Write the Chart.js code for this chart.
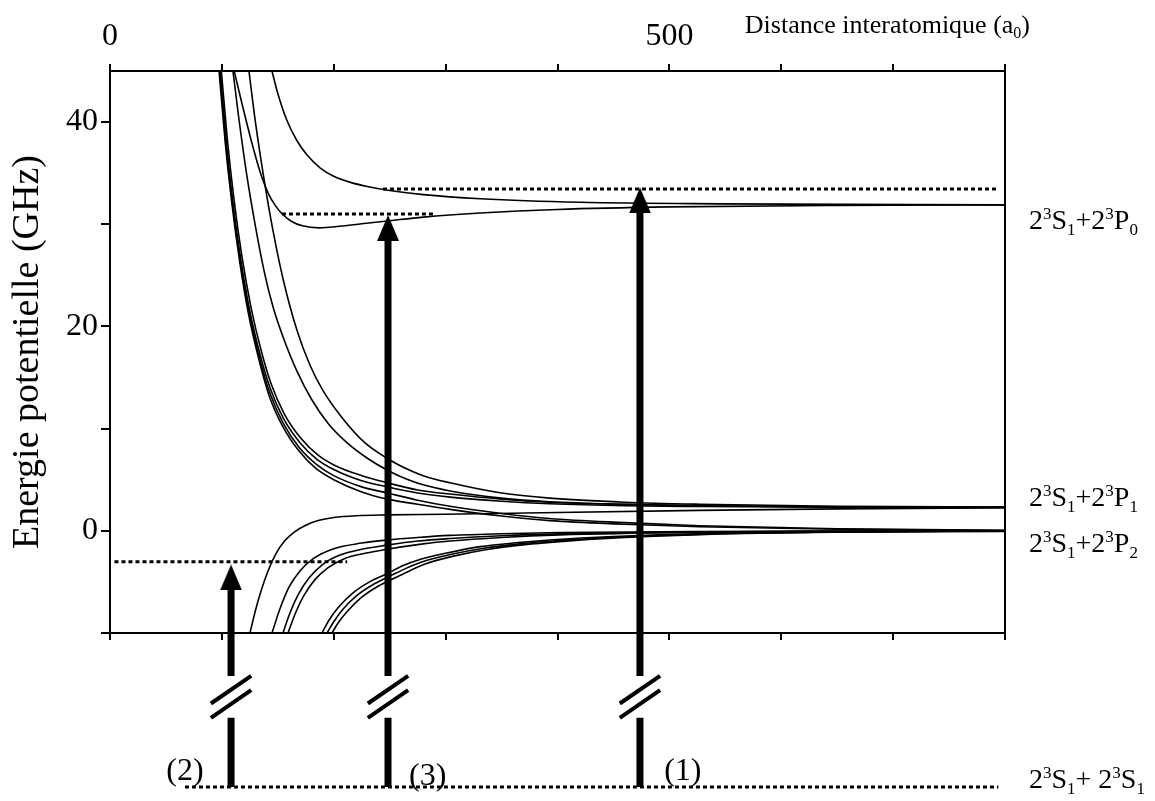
<!DOCTYPE html>
<html>
<head>
<meta charset="utf-8">
<script src="https://cdn.jsdelivr.net/npm/chart.js@4.4.1/dist/chart.umd.min.js"></script>
<style>
  html, body { margin: 0; padding: 0; background: #fff; }
</style>
</head>
<body>
<canvas id="chart" width="1155" height="801"></canvas>
<script>
var FONT = '"Liberation Serif", "Times New Roman", serif';

// tick labels
var topTickLabels = [0, 500];
var leftTickLabels = [0, 20, 40];

// potential curves, points [R (a0), E (GHz)]
// towards 2S+2P0
var curveP0rep = [[144.8,45],[150,42.8],[158,40.2],[167,38.2],[176,36.8],[188,35.5],[200,34.7],[215,34.1],[230,33.7],[250,33.3],[280,32.9],[331,32.5],[420,32.15],[550,32.0],[800,31.9]];
var curveP0well = [[111,45],[118,41.8],[126,38.3],[134,35.2],[142,32.9],[148,31.8],[154,31.0],[162,30.3],[172,29.85],[187,29.65],[205,29.8],[225,30.05],[250,30.35],[280,30.7],[331,31.1],[400,31.45],[500,31.7],[650,31.85],[800,31.9]];

// repulsive curves towards 2S+2P1
var curveC1 = [[109.9,45],[115,40.5],[122,35.0],[130,29.8],[138,25.3],[146,21.8],[154.6,19.0],[167.2,15.6],[180,12.9],[195,10.5],[212,8.6],[230,7.1],[247.6,5.95],[259,5.35],[280,4.5],[304,3.9],[350,3.2],[393,2.85],[460,2.6],[527,2.45],[650,2.35],[800,2.3]];
var curveC2 = [[124.2,45],[130,40.0],[138,34.2],[146,29.2],[155,24.5],[167.2,19.6],[178.8,16.2],[190,13.8],[208,11.0],[228,8.6],[247.6,7.1],[259,6.4],[280,5.4],[304,4.7],[350,3.7],[393,3.2],[460,2.8],[527,2.6],[650,2.4],[800,2.33]];
var curveB1 = [[99.5,45],[105,38.2],[111,32.3],[118,26.8],[126,21.9],[135,17.7],[144,14.4],[156,11.4],[171,9.0],[186,7.4],[201,6.4],[225,5.4],[248,4.7],[275,4.0],[304,3.6],[350,3.1],[393,2.8],[460,2.6],[527,2.45],[650,2.35],[800,2.3]];
var curveB2 = [[98.5,45],[104,38],[110,32],[117,26.5],[125,21.5],[134,17.3],[143,14.0],[155,11.0],[170,8.6],[185,7.0],[200,6.0],[225,4.9],[248,4.3],[275,3.7],[304,3.3],[350,2.9],[393,2.65],[460,2.45],[527,2.38],[650,2.32],[800,2.3]];

// repulsive curves crossing down to 2S+2P2
var curveB3 = [[98,45],[103.5,38],[109.5,32],[116.5,26.4],[124.5,21.3],[133.5,17.0],[142.5,13.6],[154.5,10.6],[169.5,8.1],[184.5,6.5],[200,5.4],[225,4.3],[248,3.7],[275,3.0],[304,2.4],[350,1.7],[393,1.2],[460,0.8],[527,0.5],[650,0.2],[800,0.05]];
var curveB4 = [[97.5,45],[103,38],[109,32],[116,26.3],[124,21.1],[133,16.8],[142,13.3],[154,10.3],[169,7.8],[184,6.1],[200,5.0],[225,3.8],[248,3.1],[275,2.6],[304,2.1],[350,1.45],[393,1.0],[460,0.65],[527,0.4],[650,0.15],[800,0.03]];

// attractive curves
var curveD1 = [[125.1,-10],[130,-7.8],[135,-5.9],[141,-4.0],[148,-2.3],[156,-1.0],[165,-0.1],[175,0.55],[186,1.0],[200,1.3],[220,1.48],[247.6,1.56],[300,1.62],[400,1.8],[527,2.0],[650,2.15],[800,2.25]];
var curveD2 = [[144.8,-10],[152,-7.6],[160,-5.5],[170,-3.9],[182,-2.7],[200,-1.75],[225,-1.2],[247.6,-0.9],[275,-0.65],[304,-0.45],[350,-0.28],[402,-0.17],[527,-0.06],[650,-0.02],[800,0]];
var curveD3 = [[154.6,-10],[161,-8.0],[168,-6.3],[178,-4.6],[190,-3.3],[205,-2.4],[225,-1.8],[247.6,-1.4],[275,-1.0],[304,-0.75],[350,-0.48],[402,-0.3],[527,-0.12],[650,-0.05],[800,-0.01]];
var curveD4 = [[159.1,-10],[166,-8.0],[173,-6.4],[183,-4.8],[195,-3.6],[210,-2.7],[228,-2.2],[247.6,-1.8],[275,-1.35],[304,-1.0],[350,-0.65],[402,-0.4],[527,-0.15],[650,-0.06],[800,-0.02]];
var curveE1 = [[189.5,-10],[196,-8.7],[204,-7.5],[217,-6.1],[232,-5.0],[247.6,-4.2],[262,-3.4],[277,-2.8],[300,-2.2],[331,-1.55],[365,-1.15],[393,-0.9],[450,-0.55],[527,-0.28],[650,-0.1],[800,-0.03]];
var curveE2 = [[194,-10],[200,-8.9],[208,-7.7],[221,-6.3],[236,-5.2],[250,-4.45],[265,-3.65],[280,-3.0],[303,-2.35],[334,-1.7],[368,-1.25],[396,-1.0],[453,-0.62],[530,-0.32],[650,-0.12],[800,-0.04]];
var curveE3 = [[198.4,-10],[204,-9.0],[212,-7.9],[225,-6.5],[240,-5.4],[254,-4.65],[268,-3.9],[283,-3.2],[306,-2.5],[337,-1.82],[371,-1.35],[399,-1.08],[456,-0.68],[533,-0.35],[650,-0.14],[800,-0.05]];

var potentialCurves = [curveP0rep, curveP0well, curveC1, curveC2, curveB1, curveB2, curveB3, curveB4,
                       curveD1, curveD2, curveD3, curveD4, curveE1, curveE2, curveE3];

// dotted levels: [xStart, xEnd, energy]
var dottedLevels = [[244, 794, 33.46], [153.7, 288.7, 31.0], [4, 212, -3.02], [67, 794, -25.07]];

// excitation arrows (1), (2), (3)
var arrowNames = ['(1)', '(2)', '(3)'];
var arrowX = [473.7, 108.2, 248.5];
var arrowTip = [33.6, -3.3, 30.9];
var arrowBottom = -25.07;
var breakTop = -14.2;     // upper part of the broken shaft ends here
var breakBottom = -18.3;  // lower part starts here
var arrowNameX = [512, 67, 284];
var arrowNameY = [-23.4, -23.4, -23.8];

// asymptote labels on the right
var levelLabels = ['2^3S_1+2^3P_0', '2^3S_1+2^3P_1', '2^3S_1+2^3P_2', '2^3S_1+ 2^3S_1'];
var levelLabelY = [30.4, 3.3, -1.2, -24.3];

function toPoints(arr) {
  return arr.map(function (p) { return { x: p[0], y: p[1] }; });
}

// arrow head, a bit taller than wide
var HEAD_W = 22, HEAD_H = 26;
var headImg = document.createElement('canvas');
headImg.width = HEAD_W;
headImg.height = HEAD_H;
(function () {
  var c = headImg.getContext('2d');
  c.fillStyle = '#000';
  c.beginPath();
  c.moveTo(HEAD_W / 2, 0);
  c.lineTo(HEAD_W, HEAD_H);
  c.lineTo(0, HEAD_H);
  c.closePath();
  c.fill();
})();
var HEAD_OFFSET = (HEAD_H / 2) / 10.25; // half head height in GHz units

var datasets = [];

potentialCurves.forEach(function (c) {
  datasets.push({
    data: toPoints(c),
    borderColor: '#000',
    borderWidth: 1.6,
    pointRadius: 0,
    cubicInterpolationMode: 'monotone',
    fill: false
  });
});

dottedLevels.forEach(function (d) {
  datasets.push({
    data: [{ x: d[0], y: d[2] }, { x: d[1], y: d[2] }],
    borderColor: '#000',
    borderWidth: 3,
    borderDash: [4, 3],
    borderCapStyle: 'butt',
    pointRadius: 0,
    clip: false
  });
});

for (var i = 0; i < arrowX.length; i++) {
  var ax = arrowX[i];
  // broken shaft
  datasets.push({
    data: [{ x: ax, y: arrowBottom }, { x: ax, y: breakBottom }, { x: ax, y: null },
           { x: ax, y: breakTop }, { x: ax, y: arrowTip[i] - 2 }],
    borderColor: '#000',
    borderWidth: 7,
    borderCapStyle: 'butt',
    pointRadius: 0,
    spanGaps: false,
    clip: false
  });
  // the two slashes of the break
  datasets.push({
    data: [{ x: ax - 18, y: -16.9 }, { x: ax + 18, y: -14.2 }, { x: ax + 18, y: null },
           { x: ax - 18, y: -18.3 }, { x: ax + 18, y: -15.6 }],
    borderColor: '#000',
    borderWidth: 4,
    pointRadius: 0,
    spanGaps: false,
    clip: false
  });
  // arrow head
  datasets.push({
    data: [{ x: ax, y: arrowTip[i] - HEAD_OFFSET }],
    showLine: false,
    pointStyle: headImg,
    pointRadius: HEAD_H / 2,
    clip: false
  });
}

// superscript ^x and subscript _x
function richParts(str) {
  var parts = [];
  for (var k = 0; k < str.length; k++) {
    var c = str[k];
    if (c === '^' || c === '_') { parts.push({ t: str[k + 1], s: c }); k++; }
    else parts.push({ t: c, s: '' });
  }
  return parts;
}

function drawRich(ctx, str, x, y, size, align) {
  var parts = richParts(str);
  var small = Math.round(size * 0.62);
  var w = 0;
  parts.forEach(function (p) {
    ctx.font = (p.s ? small : size) + 'px ' + FONT;
    p.w = ctx.measureText(p.t).width;
    w += p.w;
  });
  var cx = align === 'right' ? x - w : (align === 'center' ? x - w / 2 : x);
  parts.forEach(function (p) {
    ctx.font = (p.s ? small : size) + 'px ' + FONT;
    var dy = p.s === '^' ? -size * 0.36 : (p.s === '_' ? size * 0.2 : 0);
    ctx.fillText(p.t, cx, y + dy);
    cx += p.w;
  });
}

var textPlugin = {
  id: 'textPlugin',
  afterDraw: function (chart) {
    var ctx = chart.ctx;
    var xs = chart.scales.x, ys = chart.scales.y;
    var area = chart.chartArea;
    ctx.save();
    ctx.fillStyle = '#000';
    ctx.textBaseline = 'alphabetic';

    var size = 28;
    for (var k = 0; k < levelLabels.length; k++) {
      var py = ys.getPixelForValue(levelLabelY[k]) + size * 0.33;
      drawRich(ctx, levelLabels[k], area.right + 24, py, size, 'left');
    }
    var nameSize = 32;
    for (var j = 0; j < arrowNames.length; j++) {
      drawRich(ctx, arrowNames[j], xs.getPixelForValue(arrowNameX[j]),
               ys.getPixelForValue(arrowNameY[j]) + nameSize * 0.33, nameSize, 'center');
    }
    // x axis title
    drawRich(ctx, 'Distance interatomique (a_0)', area.right + 25, 33, 26, 'right');
    ctx.restore();
  }
};

var blackBorder = { display: true, color: '#000', width: 2 };

new Chart(document.getElementById('chart'), {
  type: 'line',
  data: { datasets: datasets },
  options: {
    responsive: false,
    animation: false,
    events: [],
    layout: { padding: 0 },
    plugins: { legend: { display: false }, tooltip: { enabled: false } },
    scales: {
      x: {
        type: 'linear', position: 'bottom', min: 0, max: 800,
        ticks: { stepSize: 100, callback: function () { return ''; } },
        grid: { drawOnChartArea: false, color: '#000', lineWidth: 2, tickLength: 7 },
        border: blackBorder,
        afterFit: function (s) { s.height = 168; }
      },
      xTop: {
        type: 'linear', position: 'top', min: 0, max: 800,
        ticks: {
          stepSize: 100, autoSkip: false, maxRotation: 0, color: '#000', padding: 8,
          font: { family: FONT, size: 32 },
          callback: function (v) { return topTickLabels.indexOf(v) >= 0 ? String(v) : ''; }
        },
        grid: { drawOnChartArea: false, color: '#000', lineWidth: 2, tickLength: 7 },
        border: blackBorder,
        afterFit: function (s) { s.height = 71; }
      },
      y: {
        type: 'linear', position: 'left', min: -10, max: 45,
        ticks: {
          stepSize: 10, includeBounds: false, color: '#000', padding: 3,
          font: { family: FONT, size: 32 },
          callback: function (v) { return leftTickLabels.indexOf(v) >= 0 ? String(v) : ''; }
        },
        title: { display: true, text: 'Energie potentielle (GHz)', color: '#000',
                 font: { family: FONT, size: 38 }, padding: { top: 5, bottom: 0 } },
        grid: { drawOnChartArea: false, color: '#000', lineWidth: 2, tickLength: 9 },
        border: blackBorder,
        afterFit: function (s) { s.width = 110; }
      },
      yRight: {
        type: 'linear', position: 'right', min: -10, max: 45,
        ticks: { stepSize: 10, includeBounds: false, callback: function () { return ''; } },
        grid: { drawOnChartArea: false, drawTicks: false },
        border: blackBorder,
        afterFit: function (s) { s.width = 150; }
      }
    }
  },
  plugins: [textPlugin]
});
</script>
</body>
</html>
